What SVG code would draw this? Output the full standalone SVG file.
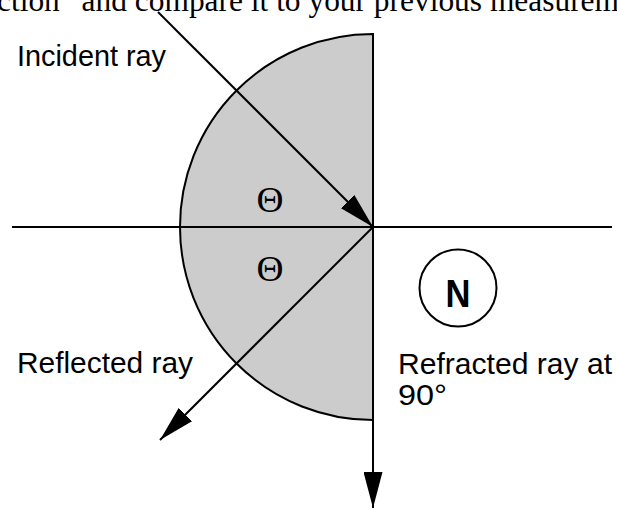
<svg xmlns="http://www.w3.org/2000/svg" width="617" height="510" viewBox="0 0 617 510">
<style>
.ln{stroke:#000;stroke-width:2;fill:none}
.lbl{font-family:"Liberation Sans",Arial,sans-serif;font-size:30px;fill:#000}
.th{font-family:"Liberation Serif","Times New Roman",serif;fill:#000;text-anchor:middle}
</style>
<defs>
<marker id="ah" markerUnits="userSpaceOnUse" markerWidth="36" markerHeight="19" viewBox="0 0 36 19" refX="36" refY="9.5" orient="auto">
<path d="M0,0 L36,9.5 L0,19 Z" fill="#000"/>
</marker>
</defs>
<text x="-3" y="11" font-family="'Liberation Serif','Times New Roman',serif" font-size="32" textLength="622" lengthAdjust="spacingAndGlyphs">ction” and compare it to your previous measurem</text>
<g id="block">
<path d="M373,34 A193,193 0 0 0 373,420 Z" fill="#cccccc" stroke="#000" stroke-width="2"/>
</g>
<g id="connectors">
<line class="ln" x1="12" y1="227" x2="612" y2="227"/>
<line class="ln" x1="373" y1="33" x2="373" y2="508" marker-end="url(#ah)"/>
<line class="ln" x1="158" y1="12" x2="373" y2="227" marker-end="url(#ah)"/>
<line class="ln" x1="373" y1="227" x2="160" y2="440" marker-end="url(#ah)"/>
</g>
<g id="theta1"><text class="th" x="270" y="212" font-size="35" textLength="27" lengthAdjust="spacingAndGlyphs">Θ</text></g>
<g id="theta2"><text class="th" x="270" y="281" font-size="35" textLength="27" lengthAdjust="spacingAndGlyphs">Θ</text></g>
<g id="normal">
<circle cx="458" cy="288" r="38.5" fill="#fff" stroke="#000" stroke-width="2"/>
<text x="458" y="307" text-anchor="middle" font-family="'Liberation Sans',Arial,sans-serif" font-weight="bold" font-size="38" textLength="25" lengthAdjust="spacingAndGlyphs">N</text>
</g>
<g id="incident"><text class="lbl" x="17" y="66" textLength="149" lengthAdjust="spacingAndGlyphs">Incident ray</text></g>
<g id="reflected"><text class="lbl" x="17" y="373" textLength="176" lengthAdjust="spacingAndGlyphs">Reflected ray</text></g>
<g id="refracted"><text class="lbl" x="398" y="374" textLength="214" lengthAdjust="spacingAndGlyphs">Refracted ray at</text><text class="lbl" x="398" y="405" textLength="49" lengthAdjust="spacingAndGlyphs">90°</text></g>
</svg>
